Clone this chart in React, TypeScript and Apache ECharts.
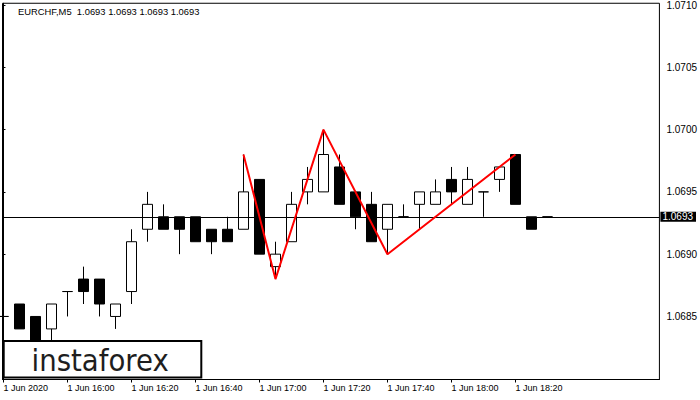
import React, { useEffect, useRef } from 'react';
import * as echarts from 'echarts';

const symbolName = 'EURCHF,M5';
const times = [
  '15:40', '15:45', '15:50', '15:55', '16:00', '16:05', '16:10', '16:15', '16:20', '16:25',
  '16:30', '16:35', '16:40', '16:45', '16:50', '16:55', '17:00', '17:05', '17:10', '17:15',
  '17:20', '17:25', '17:30', '17:35', '17:40', '17:45', '17:50', '17:55', '18:00', '18:05',
  '18:10', '18:15', '18:20', '18:25', '18:30',
];
const opens = [
  1.0685, 1.0686, 1.0685, 1.0684, 1.0687, 1.0688, 1.0688, 1.0685, 1.0687, 1.0692,
  1.0693, 1.0693, 1.0693, 1.0692, 1.0692, 1.0692, 1.0696, 1.0689, 1.0691, 1.0695,
  1.0695, 1.0697, 1.0695, 1.0694, 1.0692, 1.0693, 1.0694, 1.0694, 1.0696, 1.0694,
  1.0695, 1.0696, 1.0698, 1.0693, 1.0693,
];
const highs = [
  1.0685, 1.0686, 1.0685, 1.0686, 1.0687, 1.0689, 1.0688, 1.0686, 1.0692, 1.0695,
  1.0694, 1.0693, 1.0693, 1.0692, 1.0693, 1.0698, 1.0696, 1.0691, 1.0695, 1.0697,
  1.0700, 1.0698, 1.0695, 1.0695, 1.0694, 1.0694, 1.0695, 1.0696, 1.0697, 1.0697,
  1.0695, 1.0697, 1.0698, 1.0693, 1.0693,
];
const lows = [
  1.0684, 1.0684, 1.0681, 1.0683, 1.0685, 1.0686, 1.0685, 1.0684, 1.0686, 1.0691,
  1.0692, 1.0690, 1.0691, 1.0690, 1.0691, 1.0692, 1.0690, 1.0688, 1.0691, 1.0694,
  1.0695, 1.0694, 1.0692, 1.0691, 1.0690, 1.0693, 1.0692, 1.0694, 1.0694, 1.0694,
  1.0693, 1.0695, 1.0694, 1.0692, 1.0693,
];
const closes = [
  1.0685, 1.0684, 1.0682, 1.0686, 1.0687, 1.0687, 1.0686, 1.0686, 1.0691, 1.0694,
  1.0692, 1.0692, 1.0691, 1.0691, 1.0691, 1.0695, 1.0690, 1.0690, 1.0694, 1.0696,
  1.0698, 1.0694, 1.0693, 1.0691, 1.0694, 1.0693, 1.0695, 1.0695, 1.0695, 1.0696,
  1.0695, 1.0697, 1.0694, 1.0692, 1.0693,
];
const tickIndex = [0, 4, 8, 12, 16, 20, 24, 28, 32];
const tickLabels = [
  '1 Jun 2020', '1 Jun 16:00', '1 Jun 16:20', '1 Jun 16:40', '1 Jun 17:00',
  '1 Jun 17:20', '1 Jun 17:40', '1 Jun 18:00', '1 Jun 18:20',
];
const priceTicks = [1.0685, 1.069, 1.0695, 1.07, 1.0705, 1.071];
const bid = 1.0693;
const patternIdx = [15, 17, 20, 24, 32];
const patternKind = ['high', 'low', 'high', 'low', 'high'];

export default function App() {
  const ref = useRef<HTMLDivElement>(null);
  useEffect(() => {
    const chart = echarts.init(ref.current as HTMLDivElement, null, { renderer: 'svg' });
    const candles = times.map((_, i) => [i, opens[i], closes[i], lows[i], highs[i]]);
    const pattern = patternIdx.map((k, j) => [k, patternKind[j] === 'high' ? highs[k] : lows[k]]);
    const last = times.length - 1;
    const lastOHLC = [opens[last], highs[last], lows[last], closes[last]].map((v) => v.toFixed(4)).join(' ');
    chart.setOption({
      animation: false,
      backgroundColor: '#fff',
      textStyle: { fontFamily: 'Liberation Sans' },
      title: {
        text: `${symbolName}\u00a0\u00a0${lastOHLC}`,
        left: 18,
        top: 7,
        padding: 0,
        textStyle: { fontSize: 9.4, fontWeight: 'normal', color: '#000', fontFamily: 'Liberation Sans' },
      },
      grid: {
        left: 2.5, top: 2.5, right: 40.5, bottom: 20.5,
        show: true, borderColor: '#000', borderWidth: 1, backgroundColor: '#fff',
      },
      xAxis: {
        type: 'value',
        min: -0.0625,
        max: 41,
        axisLine: { show: true, lineStyle: { color: '#000', width: 1 } },
        axisTick: { show: true, length: 3, customValues: tickIndex, lineStyle: { color: '#000' } },
        axisLabel: {
          customValues: tickIndex,
          formatter: (v: number) => {
            const j = tickIndex.indexOf(Math.round(v));
            return j >= 0 ? tickLabels[j] : '';
          },
          align: 'left',
          margin: 4,
          fontSize: 9,
          color: '#000',
        },
        splitLine: { show: false },
      },
      yAxis: {
        type: 'value',
        position: 'right',
        min: 1.067994,
        max: 1.071014,
        axisLine: { show: true, lineStyle: { color: '#000', width: 1 } },
        axisTick: { show: true, length: 2, customValues: priceTicks, lineStyle: { color: '#000' } },
        axisLabel: {
          customValues: priceTicks,
          formatter: (v: number) => v.toFixed(4),
          margin: 7,
          fontSize: 10,
          color: '#000',
        },
        splitLine: { show: false },
      },
      series: [
        {
          type: 'candlestick',
          data: candles,
          encode: { x: 0, y: [1, 2, 3, 4] },
          barWidth: 10,
          z: 2,
          itemStyle: {
            color: '#fff', color0: '#000',
            borderColor: '#000', borderColor0: '#000', borderColorDoji: '#000',
            borderWidth: 1,
          },
          emphasis: { disabled: true },
        },
        {
          type: 'line',
          data: pattern,
          symbol: 'none',
          z: 6,
          lineStyle: { color: '#ff0000', width: 2 },
          emphasis: { disabled: true },
          markLine: {
            silent: true,
            precision: 4,
            symbol: ['none', 'none'],
            data: [{ yAxis: bid }],
            z: 5,
            lineStyle: { color: '#000', width: 1, type: 'solid' },
            label: {
              show: true,
              position: 'end',
              distance: 1,
              formatter: bid.toFixed(4),
              color: '#fff',
              backgroundColor: '#000',
              fontSize: 10,
              lineHeight: 10,
              padding: [0, 3, 0, 2],
            },
            emphasis: { disabled: true },
          },
        },
      ],
      graphic: [
        {
          type: 'rect',
          z: 100,
          shape: { x: 3.7, y: 341, width: 197.6, height: 36.4 },
          style: { fill: '#fff', stroke: '#000', lineWidth: 2 },
        },
        {
          type: 'text',
          z: 101,
          x: 31.5,
          y: 361,
          scaleX: 0.92,
          style: {
            text: 'instaforex',
            fontSize: 30,
            fontFamily: 'DejaVu Sans',
            fill: '#1e1e1e',
            verticalAlign: 'middle',
            align: 'left',
          },
        },
      ],
    });
    return () => chart.dispose();
  }, []);
  return (
    <div
      ref={ref}
      style={{ position: 'absolute', left: 0, top: 0, width: 700, height: 400, background: '#fff' }}
    />
  );
}
